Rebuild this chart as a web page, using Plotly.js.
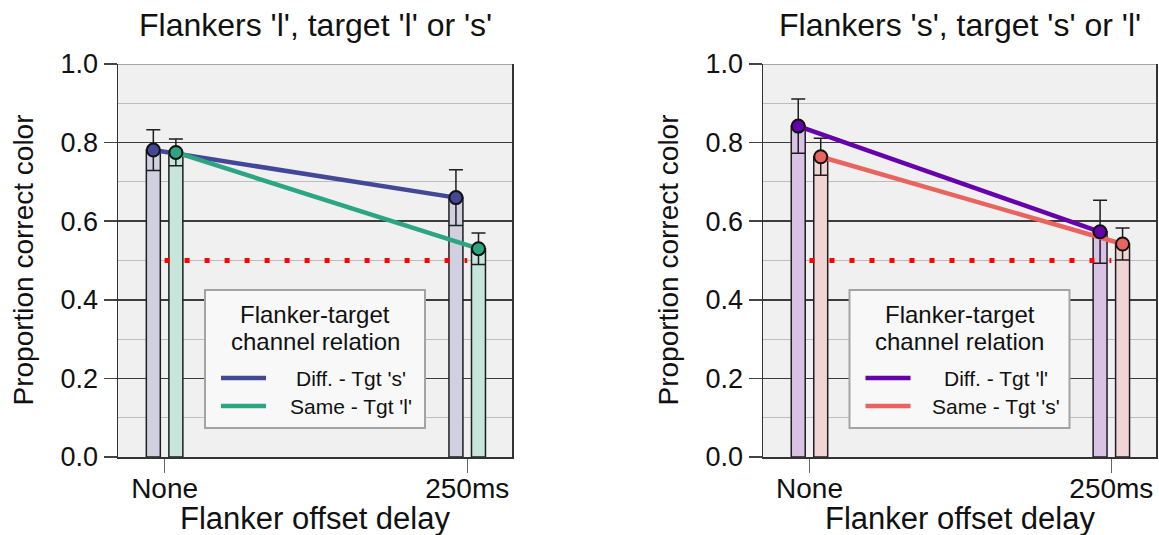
<!DOCTYPE html>
<html>
<head>
<meta charset="utf-8">
<script src="https://cdn.plot.ly/plotly-3.0.1.min.js"></script>
<style>
  html, body { margin: 0; padding: 0; background: #ffffff; }
  #chart { width: 1159px; height: 535px; }
</style>
</head>
<body>
<div id="chart"></div>
<script>
// ---- Data -------------------------------------------------------------
// Flanker offset delay conditions (x categories)
const delays = ['None', '250ms'];

// Panel titles
const panelTitles = ["Flankers 'l', target 'l' or 's'", "Flankers 's', target 's' or 'l'"];

// Left panel: flankers 'l'
const namesL = ["Diff. - Tgt 's'", "Same - Tgt 'l'"];
const diffMeanL = [0.781, 0.660];
const diffErrL  = [0.052, 0.071];
const sameMeanL = [0.775, 0.530];
const sameErrL  = [0.034, 0.040];

// Right panel: flankers 's'
const namesR = ["Diff. - Tgt 'l'", "Same - Tgt 's'"];
const diffMeanR = [0.842, 0.573];
const diffErrR  = [0.069, 0.080];
const sameMeanR = [0.764, 0.542];
const sameErrR  = [0.047, 0.041];

// Chance level
const chance = [0.5, 0.5];

// Axis labels
const yTickVals = [0, 0.2, 0.4, 0.6, 0.8, 1.0];
const yTitle = 'Proportion correct color';
const xTitle = 'Flanker offset delay';
const legendTitle = ['Flanker-target', 'channel relation'];

// ---- Styling ----------------------------------------------------------
const W = 1159, H = 535;
const FONT = 'Liberation Sans, Arial, sans-serif';
const px = v => v / W;          // pixel -> paper x
const py = v => 1 - v / H;      // pixel -> paper y

const BARGAP = 0.851;
const BARGROUPGAP = 0.38;
const shift = (1 - BARGAP) / 4;  // centre offset of each bar within a group

const panels = [
  { xa: 'x', ya: 'y', left: 118, right: 512, names: namesL,
    diff: diffMeanL, diffErr: diffErrL, same: sameMeanL, sameErr: sameErrL,
    diffColor: '#424896', sameColor: '#2ca682',
    diffFill: '#d0d0e1', sameFill: '#c6e5db' },
  { xa: 'x2', ya: 'y2', left: 763, right: 1156, names: namesR,
    diff: diffMeanR, diffErr: diffErrR, same: sameMeanR, sameErr: sameErrR,
    diffColor: '#6600aa', sameColor: '#e8655f',
    diffFill: '#d9c2e6', sameFill: '#f1d5d5' }
];

const xIdx = delays.map((_, i) => i);
const traces = [];
const shapes = [];
const annotations = [];

panels.forEach(p => {
  const cx = (p.left + p.right) / 2;

  // Bars with error bars
  [[p.diff, p.diffErr, p.diffFill], [p.same, p.sameErr, p.sameFill]].forEach(([m, e, fill]) => {
    traces.push({
      type: 'bar', x: xIdx, y: m, xaxis: p.xa, yaxis: p.ya,
      marker: { color: fill, line: { color: '#1e1e1e', width: 1.5 } },
      error_y: { type: 'data', array: e, visible: true, color: '#1e1e1e', thickness: 1.5, width: 7 },
      showlegend: false, hoverinfo: 'skip'
    });
  });

  // Chance line
  traces.push({
    type: 'scatter', mode: 'lines', x: xIdx, y: chance, xaxis: p.xa, yaxis: p.ya,
    line: { color: '#ff0000', width: 5, dash: '5px,15px' },
    showlegend: false, hoverinfo: 'skip'
  });

  // Connecting lines, then markers on top
  const series = [
    { y: p.diff, dx: -shift, color: p.diffColor, name: p.names[0] },
    { y: p.same, dx: shift, color: p.sameColor, name: p.names[1] }
  ];
  series.forEach(s => {
    traces.push({
      type: 'scatter', mode: 'lines', name: s.name,
      x: xIdx.map(i => i + s.dx), y: s.y, xaxis: p.xa, yaxis: p.ya,
      line: { color: s.color, width: 4.5 }, showlegend: false
    });
  });
  series.forEach(s => {
    traces.push({
      type: 'scatter', mode: 'markers', name: s.name,
      x: xIdx.map(i => i + s.dx), y: s.y, xaxis: p.xa, yaxis: p.ya,
      marker: { color: s.color, size: 13, line: { color: '#111111', width: 2 } },
      showlegend: false
    });
  });

  // Top frame line of the plotting area
  shapes.push({
    type: 'line', xref: p.xa + ' domain', yref: p.ya, x0: 0, x1: 1, y0: 1, y1: 1,
    line: { color: '#8c8c8c', width: 1.5 }, layer: 'above'
  });

  // Legend box
  shapes.push({
    type: 'rect', xref: 'paper', yref: 'paper',
    x0: px(cx - 110), x1: px(cx + 110), y0: py(290), y1: py(428),
    fillcolor: '#f8f8f8', line: { color: '#a3a3a3', width: 2 }, layer: 'above'
  });
  series.forEach((s, k) => {
    const yy = py(378 + 28 * k);
    shapes.push({
      type: 'line', xref: 'paper', yref: 'paper',
      x0: px(cx - 94), x1: px(cx - 49), y0: yy, y1: yy,
      line: { color: s.color, width: 4.5 }, layer: 'above'
    });
    annotations.push({
      xref: 'paper', yref: 'paper', x: px(cx + 36), y: yy,
      xanchor: 'center', yanchor: 'middle', showarrow: false, text: s.name,
      font: { family: FONT, size: 21, color: '#111111' }
    });
  });
  legendTitle.forEach((t, k) => {
    annotations.push({
      xref: 'paper', yref: 'paper', x: px(cx), y: py(314 + 27 * k),
      xanchor: 'center', yanchor: 'middle', showarrow: false, text: t,
      font: { family: FONT, size: 24, color: '#111111' }
    });
  });

  // Axis titles
  annotations.push({
    xref: 'paper', yref: 'paper', x: px(p.left - 95), y: py(260.5),
    xanchor: 'center', yanchor: 'middle', textangle: -90, showarrow: false, text: yTitle,
    font: { family: FONT, size: 28, color: '#111111' }
  });
  annotations.push({
    xref: 'paper', yref: 'paper', x: px(cx), y: py(518),
    xanchor: 'center', yanchor: 'middle', showarrow: false, text: xTitle,
    font: { family: FONT, size: 31, color: '#111111' }
  });
});

// Panel titles
panelTitles.forEach((t, k) => {
  const p = panels[k];
  annotations.push({
    xref: 'paper', yref: 'paper', x: px((p.left + p.right) / 2), y: py(25),
    xanchor: 'center', yanchor: 'middle', showarrow: false, text: t,
    font: { family: FONT, size: 32, color: '#111111' }
  });
});

function xAxis(p, anchor) {
  return {
    domain: [px(p.left), px(p.right)], anchor: anchor,
    range: [-0.154, 1.148], tickvals: xIdx, ticktext: delays,
    ticks: 'outside', ticklen: 14, tickwidth: 1.2, tickcolor: '#666666',
    ticklabelstandoff: -8,
    showline: true, linecolor: '#333333', linewidth: 1.5,
    showgrid: false, zeroline: false, fixedrange: true,
    tickfont: { family: FONT, size: 28, color: '#111111' }
  };
}
function yAxis(anchor) {
  return {
    domain: [py(457), py(64)], anchor: anchor,
    range: [0, 1], tickvals: yTickVals, tickformat: '.1f',
    ticks: 'outside', ticklen: 13, tickwidth: 1.5, tickcolor: '#444444',
    showline: true, mirror: true, linecolor: '#333333', linewidth: 1.5,
    showgrid: true, gridcolor: '#3c3c3c', gridwidth: 1.6,
    minor: { dtick: 0.1, showgrid: true, gridcolor: '#bdbdbd', gridwidth: 1, ticks: '' },
    zeroline: false, fixedrange: true,
    tickfont: { family: FONT, size: 27, color: '#111111' }
  };
}

const layout = {
  width: W, height: H,
  margin: { l: 0, r: 0, t: 0, b: 0 },
  paper_bgcolor: '#ffffff', plot_bgcolor: '#f0f0f0',
  barmode: 'group', bargap: BARGAP, bargroupgap: BARGROUPGAP,
  showlegend: false,
  xaxis: xAxis(panels[0], 'y'),
  yaxis: yAxis('x'),
  xaxis2: xAxis(panels[1], 'y2'),
  yaxis2: yAxis('x2'),
  shapes: shapes,
  annotations: annotations,
  font: { family: FONT }
};

Plotly.newPlot('chart', traces, layout, { staticPlot: true, displayModeBar: false });
</script>
</body>
</html>
